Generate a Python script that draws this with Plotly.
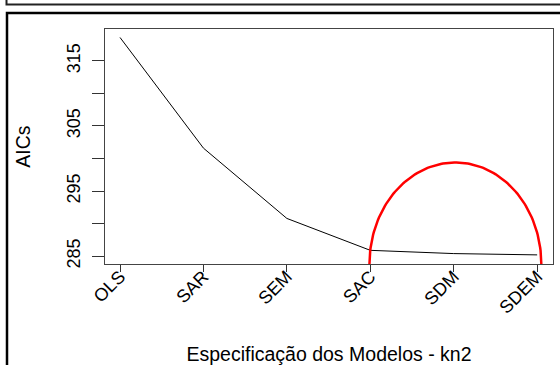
import numpy as np
import plotly.graph_objects as go

# Model specifications and their AIC values
modelos = ["OLS", "SAR", "SEM", "SAC", "SDM", "SDEM"]
aics = [318.6, 301.6, 290.8, 285.9, 285.4, 285.2]

y_ticks = [285, 290, 295, 300, 305, 310, 315]
y_labels = ["285", "", "295", "", "305", "", "315"]

# Highlight around the spatial Durbin family (half ellipse on the x axis)
destaque_centro_x = 5.02
destaque_raio_x = 1.03
destaque_base_y = 283.8
destaque_raio_y = 15.6

xpos = np.arange(1, len(modelos) + 1)

fig = go.Figure()
fig.add_trace(go.Scatter(
    x=xpos, y=aics, mode="lines",
    line=dict(color="black", width=1),
    showlegend=False, hoverinfo="skip",
))

t = np.linspace(0, np.pi, 120)
fig.add_trace(go.Scatter(
    x=destaque_centro_x + destaque_raio_x * np.cos(t),
    y=destaque_base_y + destaque_raio_y * np.sin(t),
    mode="lines", line=dict(color="red", width=2.5),
    showlegend=False, hoverinfo="skip",
))

W, H = 560, 365
ml, mr, mt, mb = 105, 7, 29, 101
pw, ph = W - ml - mr, H - mt - mb


def px(x):
    return (x - ml) / pw


def py(y):
    return (H - mb - y) / ph


# panel frames around the figure
fig.add_shape(type="rect", xref="paper", yref="paper",
              x0=px(7), x1=px(620), y0=py(13), y1=py(420),
              line=dict(color="black", width=2.5), layer="below")
fig.add_shape(type="rect", xref="paper", yref="paper",
              x0=px(6.5), x1=px(620), y0=py(4.5), y1=py(-60),
              line=dict(color="#222", width=2), layer="below")

fig.update_layout(
    width=W, height=H,
    margin=dict(l=ml, r=mr, t=mt, b=mb),
    paper_bgcolor="white", plot_bgcolor="white",
    font=dict(family="Liberation Sans, Arial, sans-serif", color="black", size=14),
    xaxis=dict(
        range=[0.82, 6.19], tickvals=list(xpos), ticktext=modelos,
        tickangle=-45, ticks="outside", ticklen=7, tickcolor="#333",
        ticklabelstandoff=-13, automargin=False,
        showgrid=False, zeroline=False, showline=True, mirror=True,
        linecolor="#444", linewidth=1, tickfont=dict(size=18),
        title=dict(text="Especificação dos Modelos - kn2", font=dict(size=19.5), standoff=34),
    ),
    yaxis=dict(
        range=[283.8, 319.9], tickvals=y_ticks, ticktext=y_labels,
        tickangle=-90, ticks="outside", ticklen=12, tickcolor="#333",
        ticklabelstandoff=5, automargin=False,
        showgrid=False, zeroline=False, showline=True, mirror=True,
        linecolor="#444", linewidth=1, tickfont=dict(size=18),
        title=dict(text="AICs", font=dict(size=19.5), standoff=27),
    ),
)

fig.write_html("out.html")
